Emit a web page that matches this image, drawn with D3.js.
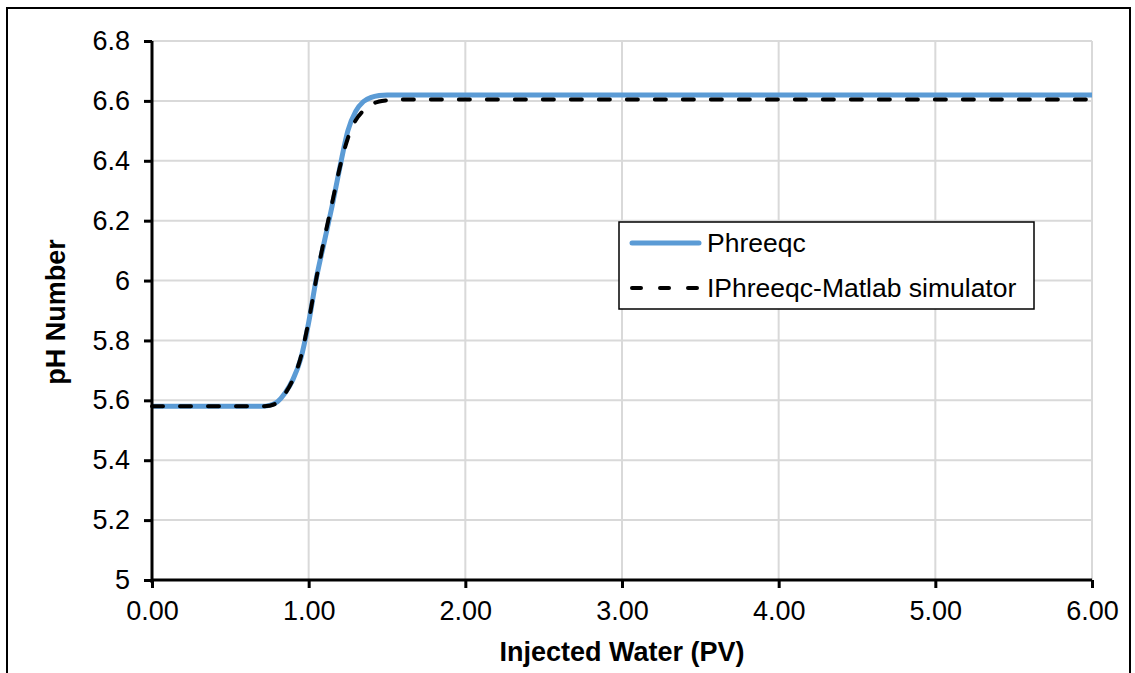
<!DOCTYPE html>
<html>
<head>
<meta charset="utf-8">
<script src="https://cdn.jsdelivr.net/npm/d3@7/dist/d3.min.js"></script>
<style>
  html, body { margin: 0; padding: 0; background: #ffffff; }
  svg { display: block; font-family: Arial, "Liberation Sans", sans-serif; }
</style>
</head>
<body>
<svg id="chart" width="1135" height="673"></svg>
<script>
// ---- data ----
const phreeqcX = [0, 0.5, 0.70, 0.75, 0.80, 0.85, 0.90, 0.95, 1.00, 1.05, 1.10, 1.15, 1.20, 1.25, 1.30, 1.35, 1.40, 1.45, 1.50, 1.60, 2.0, 3.0, 4.0, 5.0, 6.0];
const phreeqcY = [5.58, 5.58, 5.58, 5.583, 5.595, 5.625, 5.67, 5.74, 5.86, 6.01, 6.13, 6.25, 6.38, 6.50, 6.565, 6.598, 6.612, 6.618, 6.62, 6.62, 6.62, 6.62, 6.62, 6.62, 6.62];
const matlabX = [0, 0.5, 0.70, 0.75, 0.80, 0.85, 0.90, 0.95, 1.00, 1.05, 1.10, 1.15, 1.20, 1.25, 1.30, 1.35, 1.40, 1.45, 1.50, 1.60, 2.0, 3.0, 4.0, 5.0, 6.0];
const matlabY = [5.58, 5.58, 5.58, 5.582, 5.593, 5.623, 5.67, 5.745, 5.865, 6.01, 6.14, 6.26, 6.38, 6.475, 6.535, 6.568, 6.588, 6.598, 6.602, 6.605, 6.605, 6.605, 6.605, 6.605, 6.605];
const seriesNames = ["Phreeqc", "IPhreeqc-Matlab simulator"];
const xTicks = [0, 1, 2, 3, 4, 5, 6];
const xTickLabels = ["0.00", "1.00", "2.00", "3.00", "4.00", "5.00", "6.00"];
const yTicks = [5, 5.2, 5.4, 5.6, 5.8, 6, 6.2, 6.4, 6.6, 6.8];
const yTickLabels = ["5", "5.2", "5.4", "5.6", "5.8", "6", "6.2", "6.4", "6.6", "6.8"];
const xTitle = "Injected Water (PV)";
const yTitle = "pH Number";

// ---- layout ----
const svg = d3.select("#chart");
const pLeft = 152, pRight = 1092, pTop = 41, pBottom = 580;
const x = d3.scaleLinear().domain([0, 6]).range([pLeft, pRight]);
const y = d3.scaleLinear().domain([5, 6.8]).range([pBottom, pTop]);
const tickFont = 27, titleFont = 27, legendFont = 26.5;

// outer frame (bottom edge cut off)
svg.append("path")
  .attr("d", `M7,700 L7,8 L1130,8 L1130,700`)
  .attr("fill", "none").attr("stroke", "#000").attr("stroke-width", 2);

// gridlines
svg.append("g").selectAll("line").data(yTicks).join("line")
  .attr("x1", pLeft).attr("x2", pRight)
  .attr("y1", d => y(d)).attr("y2", d => y(d))
  .attr("stroke", "#d9d9d9").attr("stroke-width", 2);
svg.append("g").selectAll("line").data(xTicks).join("line")
  .attr("x1", d => x(d)).attr("x2", d => x(d))
  .attr("y1", pTop).attr("y2", pBottom)
  .attr("stroke", "#d9d9d9").attr("stroke-width", 2);

// series
const phData = phreeqcX.map((v, i) => [v, phreeqcY[i]]);
const mlData = matlabX.map((v, i) => [v, matlabY[i]]);
const line = d3.line().x(d => x(d[0])).y(d => y(d[1])).curve(d3.curveMonotoneX);

svg.append("path").datum(phData).attr("d", line)
  .attr("fill", "none").attr("stroke", "#5b9bd5").attr("stroke-width", 5)
  .attr("stroke-linejoin", "round");
svg.append("path").datum(mlData).attr("d", line)
  .attr("fill", "none").attr("stroke", "#000").attr("stroke-width", 4)
  .attr("stroke-dasharray", "11,17").attr("stroke-linecap", "round");

// axes
const xAxis = svg.append("g").attr("transform", `translate(0,${pBottom})`)
  .call(d3.axisBottom(x).tickValues(xTicks).tickFormat((d, i) => xTickLabels[i]).tickSize(8).tickSizeOuter(0).tickPadding(13));
const yAxis = svg.append("g").attr("transform", `translate(${pLeft},0)`)
  .call(d3.axisLeft(y).tickValues(yTicks).tickFormat((d, i) => yTickLabels[i]).tickSize(8).tickSizeOuter(0).tickPadding(14));
[xAxis, yAxis].forEach(g => {
  g.select(".domain").attr("stroke", "#000").attr("stroke-width", 3);
  g.selectAll(".tick line").attr("stroke", "#000").attr("stroke-width", 3);
  g.selectAll(".tick text").attr("fill", "#000")
    .style("font-family", "Arial, 'Liberation Sans', sans-serif").style("font-size", tickFont + "px");
});
xAxis.select(".domain").attr("d", `M${pLeft},0H${pRight}`);
yAxis.select(".domain").attr("d", `M0,${pTop}V${pBottom + 3}`);

// axis titles
svg.append("text").attr("x", 622).attr("y", 661)
  .attr("text-anchor", "middle").attr("font-weight", "bold")
  .attr("font-size", titleFont).attr("fill", "#000").text(xTitle);
svg.append("text").attr("transform", `translate(65,312) rotate(-90)`)
  .attr("text-anchor", "middle").attr("font-weight", "bold")
  .attr("font-size", titleFont).attr("fill", "#000").text(yTitle);

// legend
const lg = svg.append("g");
lg.append("rect").attr("x", 619).attr("y", 222).attr("width", 415).attr("height", 87)
  .attr("fill", "#fff").attr("stroke", "#000").attr("stroke-width", 1.5);
const legendStyles = [
  { stroke: "#5b9bd5", width: 5, dash: null, cap: "round" },
  { stroke: "#000", width: 4, dash: "9,19", cap: "round" }
];
const legendRowY = [243, 288];
seriesNames.forEach((name, i) => {
  const s = legendStyles[i];
  const ln = lg.append("line").attr("x1", 632).attr("x2", 699)
    .attr("y1", legendRowY[i]).attr("y2", legendRowY[i])
    .attr("stroke", s.stroke).attr("stroke-width", s.width).attr("stroke-linecap", s.cap);
  if (s.dash) ln.attr("stroke-dasharray", s.dash);
  lg.append("text").attr("x", 707).attr("y", legendRowY[i]).attr("dy", "0.35em")
    .attr("font-size", legendFont).attr("fill", "#000").text(name);
});
</script>
</body>
</html>
